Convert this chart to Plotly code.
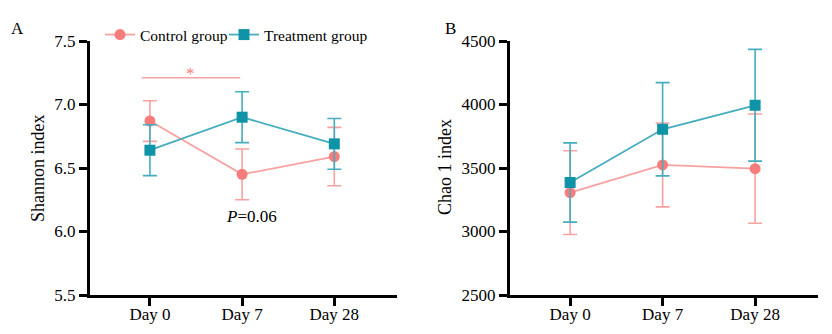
import plotly.graph_objects as go

days = ["Day 0", "Day 7", "Day 28"]

shannon_control = [6.87, 6.45, 6.59]
shannon_control_sd = [0.16, 0.20, 0.23]
shannon_treat = [6.64, 6.90, 6.69]
shannon_treat_sd = [0.20, 0.20, 0.20]

chao_control = [3306, 3524, 3495]
chao_control_sd = [330, 330, 430]
chao_treat = [3386, 3805, 3994]
chao_treat_sd = [312, 367, 440]

PINK_M = "#F77C7C"
PINK_L = "#F7A1A1"
TEAL_M = "#0F93A7"
TEAL_L = "#44ADBE"
FONT = "Liberation Serif"

fig = go.Figure()

def add_series(x, y, sd, name, mcol, lcol, symbol, xa, ya, show, leg):
    fig.add_trace(go.Scatter(
        x=x, y=y, name=name, mode="lines+markers",
        xaxis=xa, yaxis=ya, showlegend=show, legend=leg,
        line=dict(color=lcol, width=1.8),
        marker=dict(color=mcol, size=11, symbol=symbol),
        error_y=dict(type="data", array=sd, visible=True, color=lcol, thickness=1.6, width=7),
    ))

add_series(days, shannon_control, shannon_control_sd, "Control group", PINK_M, PINK_L, "circle", "x", "y", True, "legend")
add_series(days, shannon_treat, shannon_treat_sd, "Treatment group", TEAL_M, TEAL_L, "square", "x", "y", True, "legend2")
add_series(days, chao_control, chao_control_sd, "Control group", PINK_M, PINK_L, "circle", "x2", "y2", False, "legend")
add_series(days, chao_treat, chao_treat_sd, "Treatment group", TEAL_M, TEAL_L, "square", "x2", "y2", False, "legend2")

axis_common = dict(
    showline=True, linecolor="black", linewidth=3,
    ticks="outside", tickcolor="black", tickwidth=2.5, ticklen=8,
    showgrid=False, zeroline=False, automargin=False,
    tickfont=dict(family=FONT, size=17, color="black"),
)

legend_common = dict(orientation="h", xanchor="left", yanchor="middle",
                     font=dict(family=FONT, size=15.5, color="black"), bgcolor="rgba(0,0,0,0)",
                     itemwidth=30)

fig.update_layout(
    width=832, height=334,
    margin=dict(l=0, r=0, t=0, b=0, autoexpand=False),
    paper_bgcolor="white", plot_bgcolor="white",
    font=dict(family=FONT, size=15, color="black"),
    xaxis=dict(domain=[90/832, 397/832], type="category", categoryorder="array",
               categoryarray=days, range=[-0.65, 2.68], anchor="y", ticklabelstandoff=-6, **axis_common),
    yaxis=dict(domain=[1-295/334, 1-41/334], range=[5.5, 7.5], tickvals=[5.5, 6.0, 6.5, 7.0, 7.5],
               tickformat=".1f", anchor="x", **axis_common),
    xaxis2=dict(domain=[510/832, 818/832], type="category", categoryorder="array",
                categoryarray=days, range=[-0.65, 2.68], anchor="y2", ticklabelstandoff=-6, **axis_common),
    yaxis2=dict(domain=[1-295/334, 1-41/334], range=[2500, 4500], tickvals=[2500, 3000, 3500, 4000, 4500],
                anchor="x2", **axis_common),
    legend=dict(x=100/832, y=1-35/334, **legend_common),
    legend2=dict(x=224/832, y=1-35/334, **legend_common),
)

# significance bar
fig.add_shape(type="line", xref="x", yref="y", x0=-0.09, x1=0.98, y0=7.21, y1=7.21,
              line=dict(color=PINK_L, width=1.5))
fig.add_annotation(xref="x", yref="y", x=0.44, y=7.21, text="*", showarrow=False,
                   xanchor="center", yanchor="bottom", font=dict(family=FONT, size=17, color=PINK_M), yshift=-7)
fig.add_annotation(xref="x", yref="y", x=1.1, y=6.12, text="<i>P</i>=0.06", showarrow=False,
                   xanchor="center", yanchor="middle", font=dict(family=FONT, size=17, color="black"))

# axis titles
fig.add_annotation(xref="paper", yref="paper", x=38/832, y=1-168/334, text="Shannon index",
                   xanchor="center", yanchor="middle",
                   textangle=-90, showarrow=False, font=dict(family=FONT, size=18, color="black"))
fig.add_annotation(xref="paper", yref="paper", x=445/832, y=1-167/334, text="Chao 1 index",
                   xanchor="center", yanchor="middle",
                   textangle=-90, showarrow=False, font=dict(family=FONT, size=18, color="black"))

# panel labels
fig.add_annotation(xref="paper", yref="paper", x=17/832, y=1-28/334, text="A", showarrow=False,
                   xanchor="center", yanchor="middle", font=dict(family=FONT, size=17, color="black"))
fig.add_annotation(xref="paper", yref="paper", x=450/832, y=1-29/334, text="B", showarrow=False,
                   xanchor="center", yanchor="middle", font=dict(family=FONT, size=17, color="black"))

fig.write_html("out.html")
